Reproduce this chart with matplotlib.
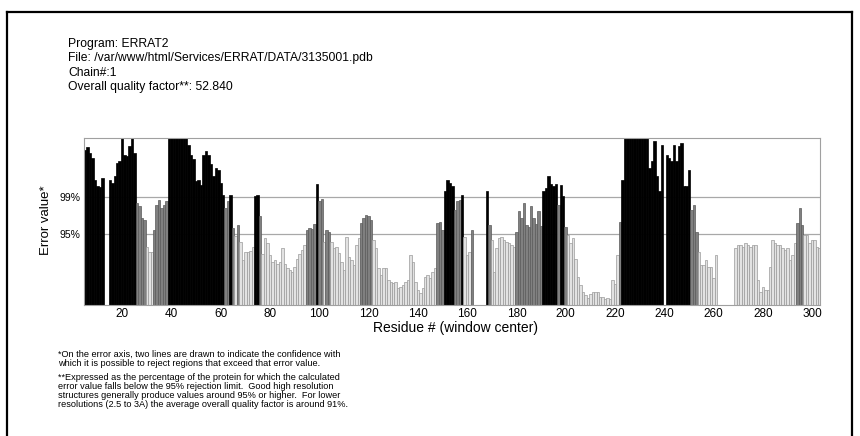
import numpy as np
import matplotlib
matplotlib.use("Agg")
import matplotlib.pyplot as plt
from matplotlib.lines import Line2D

plt.rcParams['font.family'] = ['Liberation Sans', 'DejaVu Sans']

W, H = 860, 436

first_residue = 5
error_values = (
    [24.7, 25.2, 24.2, 23.4, 19.9, 19.0, 18.8, 20.2, 0, 0]            # 5-14
    + [19.9, 19.4, 20.5, 22.6, 22.9, 28.0, 23.9, 23.7, 25.3, 28.0]    # 15-24
    + [24.2, 16.2, 15.7, 13.8, 13.6, 9.3, 8.5, 8.5, 12.0, 16.0]       # 25-34
    + [16.8, 15.4, 16.0, 16.5, 28.0, 28.5, 29.0, 30.0, 29.0, 28.5]    # 35-44
    + [28.0, 27.5, 25.5, 23.9, 23.3, 19.7, 19.9, 19.1, 23.9, 24.5]    # 45-54
    + [23.9, 22.5, 20.5, 21.8, 21.5, 19.5, 17.6, 15.4, 16.5, 17.6]    # 55-64
    + [12.3, 11.0, 12.8, 10.1, 7.2, 8.5, 8.5, 8.6, 9.3, 17.4]         # 65-74
    + [17.5, 14.2, 8.2, 10.6, 9.8, 8.0, 6.9, 7.2, 6.6, 6.9]           # 75-84
    + [9.0, 6.6, 5.9, 5.6, 5.3, 6.1, 7.4, 8.2, 8.8, 9.6]              # 85-94
    + [12.0, 12.2, 12.1, 12.9, 19.2, 16.5, 16.9, 10.0, 12.0, 11.7]    # 95-104
    + [10.1, 9.0, 9.3, 8.3, 6.9, 5.6, 10.8, 7.7, 7.2, 6.4]            # 105-114
    + [9.6, 10.6, 13.0, 13.8, 14.4, 14.1, 13.6, 10.4, 9.0, 5.9]       # 115-124
    + [4.8, 5.9, 5.9, 4.0, 3.7, 3.5, 3.7, 2.7, 2.9, 3.2]              # 125-134
    + [3.7, 4.0, 8.0, 6.9, 3.7, 2.4, 1.9, 2.7, 4.5, 4.8]              # 135-144
    + [4.3, 5.3, 5.9, 13.0, 13.3, 12.0, 18.1, 19.9, 19.4, 19.0]       # 145-154
    + [15.2, 16.6, 16.8, 17.5, 10.9, 8.0, 8.5, 12.0, 0, 0]            # 155-164
    + [0, 0, 0, 18.2, 12.8, 10.4, 5.3, 9.0, 10.6, 10.9]               # 165-174
    + [10.4, 10.1, 9.8, 9.6, 9.3, 11.7, 14.9, 13.8, 16.2, 12.8]       # 175-184
    + [12.5, 15.7, 13.8, 12.9, 14.9, 12.6, 18.1, 18.6, 20.5, 19.2]    # 185-194
    + [19.0, 19.3, 16.0, 19.1, 17.4, 12.5, 11.2, 9.8, 10.6, 7.4]      # 195-204
    + [4.5, 3.2, 2.0, 1.6, 1.1, 1.8, 2.1, 2.1, 2.1, 1.3]              # 205-214
    + [1.2, 0.9, 1.1, 1.0, 4.0, 3.4, 8.0, 13.3, 19.9, 28.0]           # 215-224
    + [28.5, 29.0, 29.5, 30.0, 29.5, 29.0, 28.5, 28.0, 27.5, 21.8]    # 225-234
    + [22.9, 26.1, 20.5, 18.1, 25.5, 0, 23.9, 23.4, 22.9, 25.5]       # 235-244
    + [22.9, 25.3, 25.8, 18.9, 18.9, 21.5, 15.2, 16.0, 11.7, 8.5]     # 245-254
    + [6.4, 6.4, 7.2, 6.1, 6.1, 4.3, 8.0, 0, 0, 0]                    # 255-264
    + [0, 0, 0, 0, 9.0, 9.6, 9.6, 9.3, 9.8, 9.6]                      # 265-274
    + [9.3, 9.6, 9.6, 4.0, 2.1, 2.9, 2.4, 2.4, 6.1, 10.4]             # 275-284
    + [9.8, 9.6, 9.6, 9.0, 8.8, 9.0, 7.2, 8.0, 9.8, 13.0]             # 285-294
    + [15.4, 12.8, 11.2, 11.2, 9.8, 10.4, 10.4, 9.3, 9.0]             # 295-303
)
residues = np.arange(first_residue, first_residue + len(error_values))

limit_95 = 11.36
limit_99 = 17.19
y_max = 26.6
x_ticks = list(range(20, 301, 20))
limit_labels = ["95%", "99%"]

header_lines = [
    "Program: ERRAT2",
    "File: /var/www/html/Services/ERRAT/DATA/3135001.pdb",
    "Chain#:1",
    "Overall quality factor**: 52.840",
]
footnote_lines = [
    "*On the error axis, two lines are drawn to indicate the confidence with",
    "which it is possible to reject regions that exceed that error value.",
    "**Expressed as the percentage of the protein for which the calculated",
    "error value falls below the 95% rejection limit.  Good high resolution",
    "structures generally produce values around 95% or higher.  For lower",
    "resolutions (2.5 to 3A) the average overall quality factor is around 91%.",
]


def fx(px):
    return px / W


def fy(py):
    return 1 - py / H


vals = np.array(error_values)
face = np.where(vals > limit_99, "#000000",
                np.where(vals > limit_95, "#808080", "#e2e2e2"))
edge = np.where(vals > limit_99, "#000000",
                np.where(vals > limit_95, "#5a5a5a", "#9a9a9a"))

fig = plt.figure(figsize=(W / 100, H / 100), dpi=100)
ax = fig.add_axes([fx(84), fy(305), fx(820) - fx(84), fy(138) - fy(305)])

ax.bar(residues, vals, width=1.0, color=face, edgecolor=edge,
       linewidth=0.5, zorder=2)
for lim in (limit_95, limit_99):
    ax.axhline(lim, color="#a8a8a8", lw=0.9, zorder=1)

ax.set_xlim(4.5, 303.2)
ax.set_ylim(0, y_max)
ax.set_xticks(x_ticks)
ax.set_xticklabels([str(t) for t in x_ticks], fontsize=8.5)
ax.set_yticks([limit_95, limit_99])
ax.set_yticklabels(limit_labels, fontsize=7.5)
ax.tick_params(axis="both", length=0, pad=2.5)
for sp in ax.spines.values():
    sp.set_color("#a0a0a0")
    sp.set_linewidth(0.8)

fig.text(fx(46), fy(220), "Error value*", rotation=90, fontsize=9.5,
         ha="center", va="center")
fig.text(fx(455), fy(328), "Residue # (window center)", fontsize=10,
         ha="center", va="center")

for i, line in enumerate(header_lines):
    fig.text(fx(68), fy(44 + i * 14.3), line, fontsize=8.7, va="center")

foot_y = [354, 363, 377, 386, 395, 404]
for y, line in zip(foot_y, footnote_lines):
    fig.text(fx(58), fy(y), line, fontsize=6.6, va="center")

# cadre extérieur
fig.add_artist(Line2D([fx(7), fx(7)], [0, fy(12)], transform=fig.transFigure,
                      color="black", lw=1.6))
fig.add_artist(Line2D([fx(7), fx(852)], [fy(12), fy(12)], transform=fig.transFigure,
                      color="black", lw=1.6))
fig.add_artist(Line2D([fx(852), fx(852)], [0, fy(12)], transform=fig.transFigure,
                      color="black", lw=1.6))

plt.savefig("out.png", dpi=100)
